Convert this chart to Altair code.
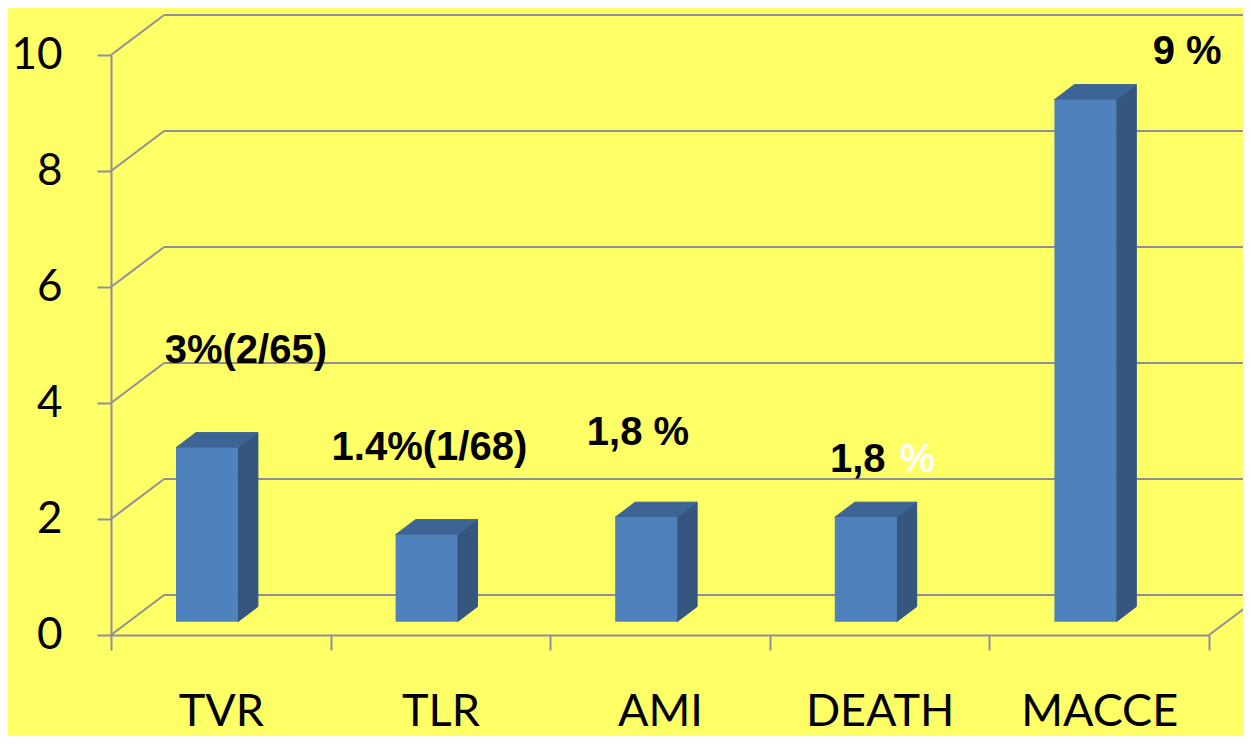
import altair as alt
import pandas as pd

# ---- data ----
categories = ["TVR", "TLR", "AMI", "DEATH", "MACCE"]
values = [3.0, 1.5, 1.8, 1.8, 9.0]
labels = ["3%(2/65)", "1.4%(1/68)", "1,8 %", "1,8 %", "9 %"]
y_ticks = [0, 2, 4, 6, 8, 10]

df = pd.DataFrame({"idx": list(range(len(categories))), "cat": categories,
                   "value": values, "label": labels})
grid_df = pd.DataFrame({"tick": y_ticks})

# ---- styling / perspective constants (axis units) ----
BAR_LEFT, BAR_W, BASE = 0.296, 0.282, 0.23
SIDE_DX, SIDE_DY = 0.091, 0.26
WALL_DX, WALL_DY, X_END = 0.242, 0.69, 5.4
BG = "#FFFF66"
GRID = "#8F8F9C"
FRONT, TOP, SIDE = "#4F81BD", "#3C6494", "#34567F"
AXIS_FONT = "Lato"
LABEL_FONT = "Liberation Sans"

W, H = 1098, 580
xs = alt.Scale(domain=[0, 5], nice=False, zero=False)
ys = alt.Scale(domain=[0, 10], nice=False, zero=False)

cats_js = "[" + ",".join("'" + c + "'" for c in categories) + "]"
x_axis = alt.Axis(
    values=[i * 0.5 for i in range(2 * len(categories) + 1)],
    labelExpr=f"datum.value % 1 === 0.5 ? {cats_js}[floor(datum.value)] : ''",
    tickOpacity={"condition": {"test": "datum.value % 1 === 0", "value": 1}, "value": 0},
    tickSize=15, tickWidth=2, tickColor=GRID, domainColor=GRID, domainWidth=2,
    labelFont=AXIS_FONT, labelFontSize=45, labelColor="black",
    labelBaseline="alphabetic", labelPadding=75, labelOverlap=False,
    labelFlush=False, grid=False, title=None,
)
y_axis = alt.Axis(
    values=y_ticks, tickSize=14, tickWidth=2, tickColor=GRID,
    domainColor=GRID, domainWidth=2, labelFont=AXIS_FONT, labelFontSize=44,
    labelColor="black", labelPadding=35, labelFlush=False, labelOverlap=False,
    grid=False, title=None,
)


def X(field):
    return alt.X(field, scale=xs, axis=x_axis)


def Y(field):
    return alt.Y(field, scale=ys, axis=y_axis)


# back wall grid: diagonal + horizontal segment per tick
g = alt.Chart(grid_df)
diag = g.transform_calculate(x0="0", x1=f"{WALL_DX}", y1=f"datum.tick + {WALL_DY}").mark_rule(
    color=GRID, strokeWidth=2).encode(x=X("x0:Q"), x2="x1:Q", y=Y("tick:Q"), y2="y1:Q")
horiz = g.transform_calculate(x0=f"{WALL_DX}", x1=f"{X_END}", y1=f"datum.tick + {WALL_DY}").mark_rule(
    color=GRID, strokeWidth=2).encode(x=X("x0:Q"), x2="x1:Q", y=Y("y1:Q"))
floor_edge = g.transform_filter("datum.tick === 0").transform_calculate(
    x0="5", x1=f"5 + {WALL_DX}", y1=f"{WALL_DY}").mark_rule(color=GRID, strokeWidth=2).encode(
    x=X("x0:Q"), x2="x1:Q", y=Y("tick:Q"), y2="y1:Q")

# 3D bars
two = alt.Chart(df).transform_calculate(t="[0, 1]").transform_flatten(["t"])
side = two.transform_calculate(
    sx=f"datum.idx + {BAR_LEFT + BAR_W} + datum.t * {SIDE_DX}",
    sb=f"{BASE} + datum.t * {SIDE_DY}",
    st=f"{BASE} + datum.value + datum.t * {SIDE_DY}").mark_area(
    color=SIDE, stroke=SIDE, strokeWidth=1).encode(
    x=X("sx:Q"), y=Y("st:Q"), y2="sb:Q", detail="cat:N")
top = two.transform_calculate(
    tx1=f"datum.idx + {BAR_LEFT} + datum.t * {SIDE_DX}",
    tx2=f"datum.idx + {BAR_LEFT + BAR_W} + datum.t * {SIDE_DX}",
    ty=f"{BASE} + datum.value + datum.t * {SIDE_DY}").mark_area(
    color=TOP, stroke=TOP, strokeWidth=1, orient="horizontal").encode(
    y=Y("ty:Q"), x=X("tx1:Q"), x2="tx2:Q", detail="cat:N")
front = alt.Chart(df).transform_calculate(
    xl=f"datum.idx + {BAR_LEFT}", xr=f"datum.idx + {BAR_LEFT + BAR_W}",
    yb=f"{BASE}", yt=f"{BASE} + datum.value").mark_rect(color=FRONT).encode(
    x=X("xl:Q"), x2="xr:Q", y=Y("yb:Q"), y2="yt:Q")

# value labels (hand-placed in the original)
label_offsets = {"TVR": (25, -85), "TLR": (-11, -75), "AMI": (-22, -72), "MACCE": (88, -36)}
text_layers = []


def label_layer(cat, text_expr, dx, dy, color, align):
    return alt.Chart(df).transform_filter(f"datum.cat === '{cat}'").transform_calculate(
        xc="datum.idx + 0.5", yt=f"{BASE} + datum.value", txt=text_expr).mark_text(
        font=LABEL_FONT, fontSize=40, fontWeight="bold", color=color,
        dx=dx, dy=dy, align=align, baseline="alphabetic").encode(
        x=X("xc:Q"), y=Y("yt:Q"), text="txt:N")


for cat, (dx, dy) in label_offsets.items():
    text_layers.append(label_layer(cat, "datum.label", dx, dy, "black", "center"))
text_layers.append(label_layer("DEATH", "split(datum.label, ' ')[0]", 6, -45, "black", "right"))
text_layers.append(label_layer("DEATH", "split(datum.label, ' ')[1]", 20, -45, "white", "left"))

chart = alt.layer(diag, horiz, floor_edge, side, top, front, *text_layers).properties(
    width=W, height=H,
    autosize=alt.AutoSizeParams(type="none"),
    padding={"left": 103, "top": 47, "right": 34, "bottom": 101},
    background=BG,
).configure_view(stroke=None)

chart.save("out.html", embed_options={"renderer": "svg", "actions": False})
